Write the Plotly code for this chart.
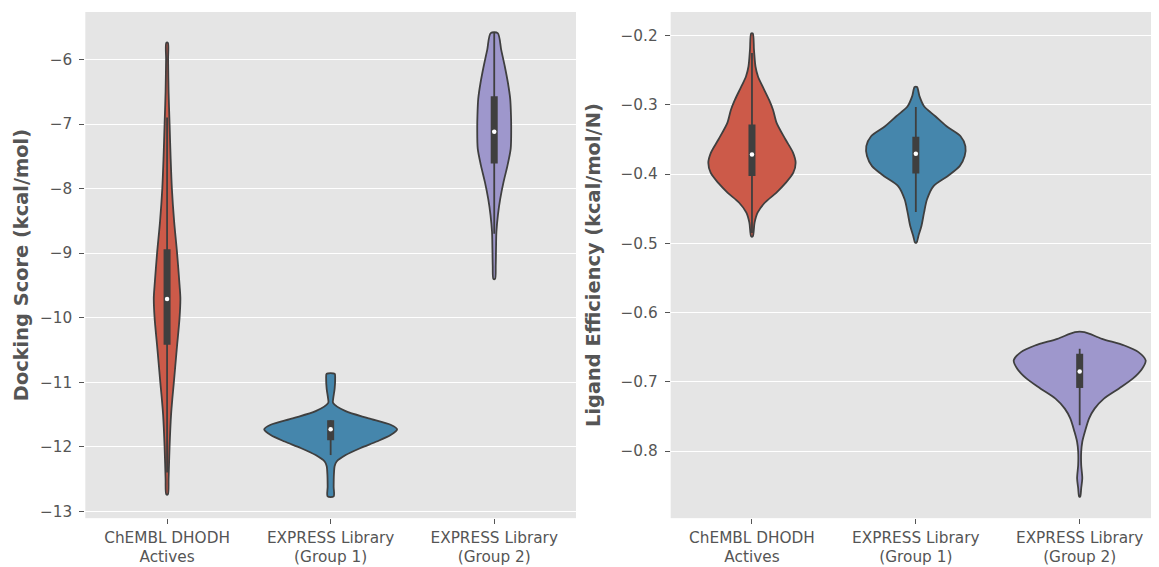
import plotly.graph_objects as go

# ---------------- data ----------------
categories = ["ChEMBL DHODH<br>Actives", "EXPRESS Library<br>(Group 1)", "EXPRESS Library<br>(Group 2)"]
colors = ["#CC5A49", "#4586AC", "#9E97CC"]

# Docking score violins: y levels (kcal/mol) and relative density half-widths
dock_chembl_y = [-5.74, -6.0, -6.5, -7.0, -7.5, -8.0, -8.5, -9.0, -9.5, -9.7, -10.0, -10.5, -11.0, -11.25, -11.5, -12.0, -12.5, -12.74]
dock_chembl_d = [0.8, 1.0, 1.5, 2.5, 3.5, 4.8, 7.0, 10.0, 12.5, 13.3, 12.5, 9.6, 6.8, 5.3, 4.0, 2.5, 1.5, 0.8]
dock_g1_y = [-10.87, -10.95, -11.1, -11.25, -11.32, -11.45, -11.56, -11.66, -11.73, -11.82, -11.92, -12.02, -12.13, -12.23, -12.3, -12.45, -12.62, -12.77]
dock_g1_d = [4.0, 4.5, 4.0, 2.6, 2.4, 15.0, 38.0, 60.0, 66.5, 60.0, 46.0, 30.0, 15.0, 6.0, 4.0, 3.2, 3.0, 3.0]
dock_g2_y = [-5.59, -5.85, -6.1, -6.36, -6.61, -6.87, -7.07, -7.38, -7.64, -7.9, -8.16, -8.41, -8.67, -8.93, -9.19, -9.4]
dock_g2_d = [3.5, 7.0, 10.5, 13.7, 16.0, 16.8, 17.0, 16.5, 13.3, 9.3, 6.0, 3.7, 2.2, 1.8, 1.5, 0.8]

# Ligand efficiency violins (kcal/mol/N)
le_chembl_y = [-0.197, -0.2206, -0.2446, -0.259, -0.2734, -0.2925, -0.307, -0.326, -0.350, -0.369, -0.3836, -0.398, -0.4124, -0.427, -0.441, -0.4556, -0.47, -0.490]
le_chembl_d = [0.8, 2.0, 3.5, 6.0, 10.6, 17.0, 21.0, 24.6, 33.5, 41.0, 43.6, 41.3, 33.9, 24.2, 13.0, 5.6, 2.6, 0.8]
le_g1_y = [-0.2743, -0.2878, -0.302, -0.3165, -0.331, -0.3453, -0.3597, -0.374, -0.3885, -0.403, -0.4173, -0.4364, -0.4556, -0.475, -0.4892, -0.4987]
le_g1_d = [1.2, 3.7, 8.2, 19.5, 30.7, 44.7, 49.5, 48.8, 43.8, 31.7, 17.7, 11.2, 8.2, 5.6, 2.6, 0.8]
le_g2_y = [-0.6282, -0.6378, -0.6475, -0.657, -0.669, -0.681, -0.6954, -0.7098, -0.7242, -0.7386, -0.753, -0.7721, -0.7865, -0.8009, -0.82, -0.8393, -0.8537, -0.8656]
le_g2_d = [4.7, 22.3, 44.7, 58.7, 65.9, 62.4, 53.0, 39.0, 24.2, 14.9, 9.3, 5.2, 2.6, 1.5, 1.5, 2.6, 1.5, 0.5]

# box statistics: [whisker low, q1, median, q3, whisker high]
dock_stats = [
    [-12.4, -10.42, -9.71, -8.94, -6.9],
    [-12.13, -11.90, -11.73, -11.59, -11.59],
    [-8.7, -7.61, -7.12, -6.57, -5.59],
]
le_stats = [
    [-0.485, -0.4029, -0.3717, -0.3285, -0.225],
    [-0.4547, -0.399, -0.3707, -0.346, -0.303],
    [-0.7626, -0.7088, -0.6849, -0.6594, -0.6522],
]

dock_ticks = [-13, -12, -11, -10, -9, -8, -7, -6]
le_ticks = [-0.8, -0.7, -0.6, -0.5, -0.4, -0.3, -0.2]

# ---------------- drawing ----------------
DENS_SCALE = 1.0 / 163.7
EDGE = "#3F3F3F"
fig = go.Figure()


def add_violin(idx, ys, ds, stats, color, xa, ya):
    xs_r = [idx + d * DENS_SCALE for d in ds]
    xs_l = [idx - d * DENS_SCALE for d in ds]
    xs = xs_r + xs_l[::-1] + [xs_r[0]]
    yy = list(ys) + list(ys)[::-1] + [ys[0]]
    fig.add_trace(go.Scatter(x=xs, y=yy, mode="lines", fill="toself", fillcolor=color,
                             line=dict(color=EDGE, width=1.8, shape="spline", smoothing=0.8),
                             xaxis=xa, yaxis=ya, showlegend=False, hoverinfo="skip"))
    wlo, q1, med, q3, whi = stats
    fig.add_trace(go.Scatter(x=[idx, idx], y=[wlo, whi], mode="lines",
                             line=dict(color=EDGE, width=1.8), xaxis=xa, yaxis=ya,
                             showlegend=False, hoverinfo="skip"))
    fig.add_trace(go.Scatter(x=[idx, idx], y=[q1, q3], mode="lines",
                             line=dict(color=EDGE, width=7), xaxis=xa, yaxis=ya,
                             showlegend=False, hoverinfo="skip"))
    fig.add_trace(go.Scatter(x=[idx], y=[med], mode="markers",
                             marker=dict(color="white", size=4.5), xaxis=xa, yaxis=ya,
                             showlegend=False, hoverinfo="skip"))


dock_sets = [(dock_chembl_y, dock_chembl_d), (dock_g1_y, dock_g1_d), (dock_g2_y, dock_g2_d)]
le_sets = [(le_chembl_y, le_chembl_d), (le_g1_y, le_g1_d), (le_g2_y, le_g2_d)]
for i, (ys, ds) in enumerate(dock_sets):
    add_violin(i, ys, ds, dock_stats[i], colors[i], "x", "y")
for i, (ys, ds) in enumerate(le_sets):
    add_violin(i, ys, ds, le_stats[i], colors[i], "x2", "y2")

# page body has an 8px default margin -> figure occupies (8..1159, 8..567)
OFF = 8
W, H = 1159 - OFF, 567 - OFF
FONT = "DejaVu Sans"
TICKC = "#555555"


def fx(px):
    return (px - OFF) / W


def fy(py):
    return 1 - (py - OFF) / H


common_x = dict(tickmode="array", tickvals=[0, 1, 2], ticktext=categories, showgrid=False,
                zeroline=False, ticks="outside", ticklen=5, tickwidth=1, tickcolor=TICKC,
                tickfont=dict(family=FONT, size=15.3, color=TICKC), showline=False)
common_y = dict(showgrid=True, gridcolor="white", gridwidth=1.4, zeroline=False,
                ticks="outside", ticklen=5, tickwidth=1, tickcolor=TICKC,
                ticklabelstandoff=4,
                tickfont=dict(family=FONT, size=15.3, color=TICKC), showline=False)

fig.update_layout(
    width=W, height=H,
    margin=dict(l=0, r=0, t=0, b=0),
    paper_bgcolor="white",
    plot_bgcolor="#E5E5E5",
    font=dict(family=FONT, color=TICKC),
    xaxis=dict(domain=[fx(85.3), fx(576)], range=[-0.5, 2.5], anchor="y", **common_x),
    yaxis=dict(domain=[fy(520), fy(12)], range=[-13.108, -5.263], anchor="x",
               tickvals=dock_ticks, ticktext=[f"\u2212{abs(t)}" for t in dock_ticks],
               title=dict(text="<b>Docking Score (kcal/mol)</b>", standoff=6,
                          font=dict(family=FONT, size=19.4, color=TICKC)),
               **common_y),
    xaxis2=dict(domain=[fx(670.7), 1.0], range=[-0.496, 2.484], anchor="y2", **common_x),
    yaxis2=dict(domain=[fy(520), fy(12)], range=[-0.8968, -0.1659], anchor="x2",
                tickvals=le_ticks, ticktext=[f"\u2212{abs(t):.1f}" for t in le_ticks],
                title=dict(text="<b>Ligand Efficiency (kcal/mol/N)</b>", standoff=14,
                           font=dict(family=FONT, size=19.4, color=TICKC)),
                **common_y),
)

fig.write_html("out.html")
